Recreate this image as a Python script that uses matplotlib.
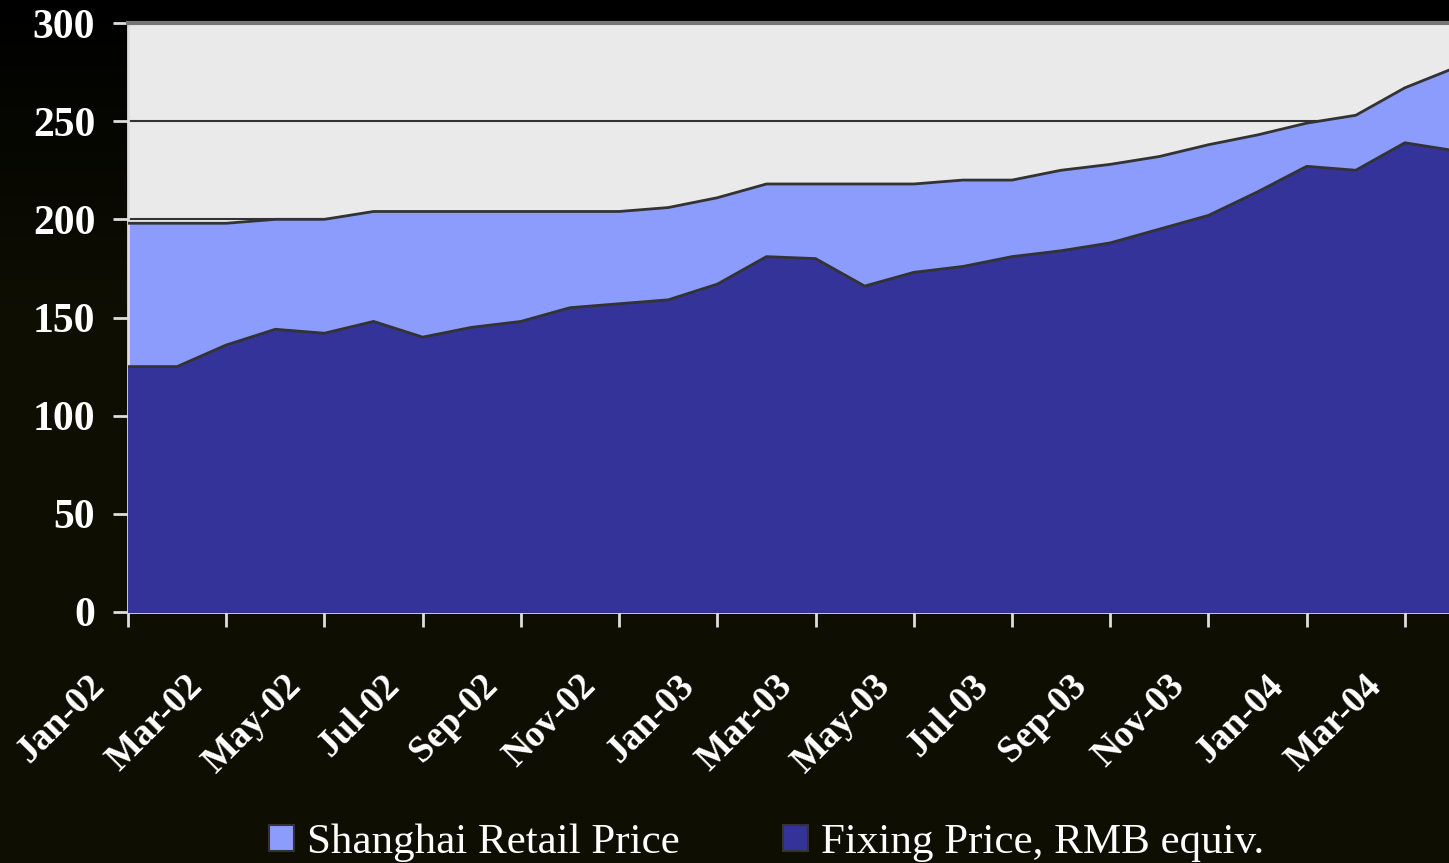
import matplotlib.pyplot as plt
import matplotlib.patches as mpatches
import matplotlib.transforms as mtransforms
import numpy as np

# monthly prices, Jan-02 .. Apr-04
months = ["Jan-02", "Feb-02", "Mar-02", "Apr-02", "May-02", "Jun-02", "Jul-02",
          "Aug-02", "Sep-02", "Oct-02", "Nov-02", "Dec-02", "Jan-03", "Feb-03",
          "Mar-03", "Apr-03", "May-03", "Jun-03", "Jul-03", "Aug-03", "Sep-03",
          "Oct-03", "Nov-03", "Dec-03", "Jan-04", "Feb-04", "Mar-04", "Apr-04"]
retail = [198, 198, 198, 200, 200, 204, 204, 204, 204, 204, 204, 206, 211, 218,
          218, 218, 218, 220, 220, 225, 228, 232, 238, 243, 249, 253, 267, 277]
fixing = [125, 125, 136, 144, 142, 148, 140, 145, 148, 155, 157, 159, 167, 181,
          180, 166, 173, 176, 181, 184, 188, 195, 202, 214, 227, 225, 239, 235]

retail_color = "#8c9cfc"
fixing_color = "#333399"
edge = "#333333"
txt = "white"
serif = "Liberation Serif"

fig = plt.figure(figsize=(14.49, 8.63), dpi=100)

# dark background gradient (black at top, dark olive lower down)
bg = fig.add_axes([0, 0, 1, 1], zorder=-10)
grad = np.linspace(0, 1, 256).reshape(-1, 1)
grad = np.clip(grad / 0.35, 0, 1)
top = np.array([0.0, 0.0, 0.0])
bot = np.array([0.055, 0.055, 0.012])
img = top + (bot - top) * grad[:, :, None]
bg.imshow(img, aspect="auto", extent=[0, 1, 0, 1], origin="upper")
bg.axis("off")

ax = fig.add_axes([128 / 1449, 1 - 612 / 863, (1454 - 128) / 1449, (612 - 23) / 863])
ax.set_facecolor("#eaeaea")

x = np.arange(len(months))
ax.fill_between(x, 0, retail, color=retail_color, zorder=2)
ax.plot(x, retail, color=edge, lw=2, zorder=3)
ax.fill_between(x, 0, fixing, color=fixing_color, zorder=4)
ax.plot(x, fixing, color=edge, lw=2, zorder=5)

ax.set_xlim(0, len(months) - 1)
ax.set_ylim(0, 300)
ax.set_yticks(range(0, 301, 50))
ax.yaxis.grid(True, color="#333333", lw=1.5)
ax.set_axisbelow(True)

# x labels: every other month, rotated, placed below-left of each tick
ax.set_xticks(x[::2])
ax.set_xticklabels([])
offset = mtransforms.ScaledTranslation(-41 / 100, -56 / 100, fig.dpi_scale_trans)
for xi in x[::2]:
    ax.text(xi, 0, months[xi], transform=ax.get_xaxis_transform() + offset,
            rotation=45, rotation_mode="anchor", ha="right", va="top",
            fontfamily=serif, fontweight="bold", fontsize=27, color=txt,
            clip_on=False)

for lbl in ax.get_yticklabels():
    lbl.set_fontfamily(serif)
    lbl.set_fontweight("bold")
    lbl.set_fontsize(30)
    lbl.set_color(txt)

ax.tick_params(axis="both", direction="out", color="#dddddd", width=2, length=10.5)
ax.tick_params(axis="y", pad=13)
for s in ["top", "right"]:
    ax.spines[s].set_visible(False)
for s in ["left", "bottom"]:
    ax.spines[s].set_color("#dddddd")
    ax.spines[s].set_linewidth(2)
ax.axhline(300, color="#777777", lw=3, zorder=6, clip_on=False)

handles = [mpatches.Patch(facecolor=retail_color, edgecolor=edge, lw=1.5, label="Shanghai Retail Price"),
           mpatches.Patch(facecolor=fixing_color, edgecolor=edge, lw=1.5, label="Fixing Price, RMB equiv.")]
fig.legend(handles=handles, loc="lower center", bbox_to_anchor=(0.529, -0.044), ncol=2,
           frameon=False, prop={"family": serif, "size": 31},
           labelcolor=txt, handlelength=0.58, handleheight=0.58, handletextpad=0.3,
           columnspacing=2.4)

fig.savefig("out.png", dpi=100, facecolor="black")
